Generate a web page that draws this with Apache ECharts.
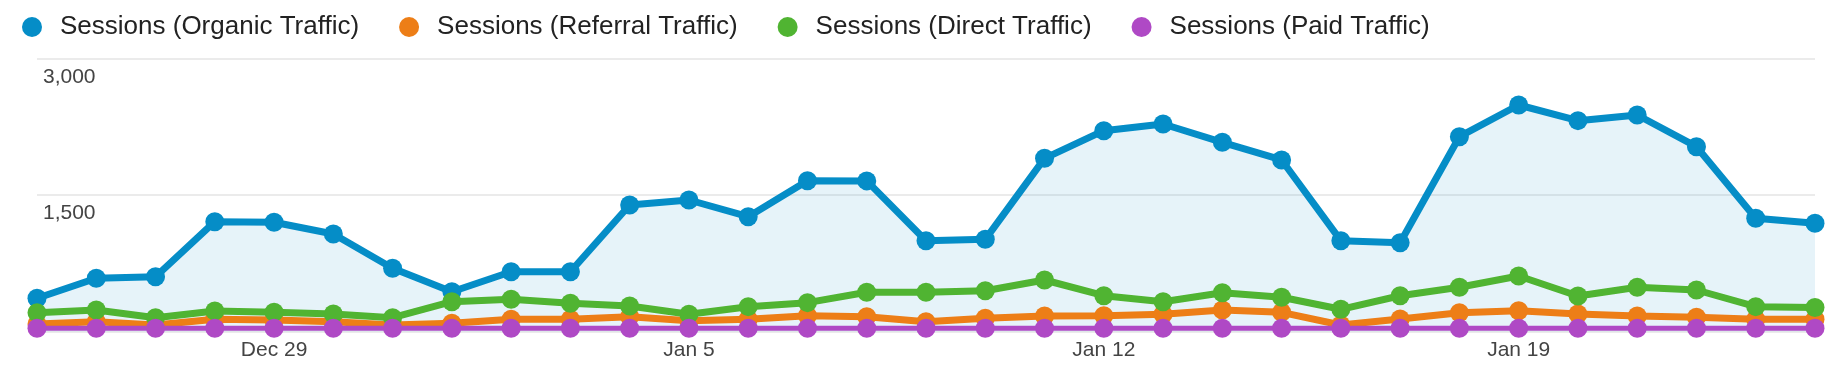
<!DOCTYPE html>
<html>
<head>
<meta charset="utf-8">
<script src="https://cdn.jsdelivr.net/npm/echarts@6/dist/echarts.min.js"></script>
<style>
html,body{margin:0;padding:0;background:#fff;}
#chart{width:1846px;height:368px;}
</style>
</head>
<body>
<div id="chart"></div>
<script>
const categories = ["Dec 25","Dec 26","Dec 27","Dec 28","Dec 29","Dec 30","Dec 31","Jan 1","Jan 2","Jan 3","Jan 4","Jan 5","Jan 6","Jan 7","Jan 8","Jan 9","Jan 10","Jan 11","Jan 12","Jan 13","Jan 14","Jan 15","Jan 16","Jan 17","Jan 18","Jan 19","Jan 20","Jan 21","Jan 22","Jan 23","Jan 24"];
const tickLabels = ["Dec 29","Jan 5","Jan 12","Jan 19"];
const seriesNames = ["Sessions (Organic Traffic)","Sessions (Referral Traffic)","Sessions (Direct Traffic)","Sessions (Paid Traffic)"];
const organic = [365,585,602,1207,1200,1072,695,437,657,657,1390,1445,1262,1657,1655,998,1013,1903,2207,2280,2079,1885,998,976,2141,2489,2317,2379,2031,1244,1189];
const referral = [82,108,71,134,126,108,71,90,134,134,163,119,134,174,163,108,145,170,174,189,236,211,71,137,207,229,192,170,156,134,134];
const direct = [207,236,152,225,211,192,152,327,354,310,280,189,273,317,431,431,448,566,393,327,426,376,244,393,486,610,390,486,456,273,264];
const paid = [35,35,35,35,35,35,35,35,35,35,35,35,35,35,35,35,35,35,35,35,35,35,35,35,35,35,35,35,35,35,35];
const yTicks = [0,1500,3000];

const colors = ['#058dc7','#ed7e17','#50b432','#af49c5'];
const chart = echarts.init(document.getElementById('chart'), null, {renderer:'canvas'});
const FONT = '"Liberation Sans", Arial, sans-serif';

function mk(name, data, color, extra){
  return Object.assign({
    name: name, type: 'line', data: data,
    symbol: 'circle', symbolSize: 19, showSymbol: true,
    lineStyle: {color: color, width: 7},
    itemStyle: {color: color, borderWidth: 0},
    emphasis: {disabled: true},
    animation: false
  }, extra || {});
}

chart.setOption({
  animation: false,
  color: colors,
  textStyle: {fontFamily: FONT},
  legend: {
    left: 22, top: 14, padding: 0,
    icon: 'circle', itemWidth: 20, itemHeight: 20, itemGap: 40,
    textStyle: {fontSize: 26, color: '#222', fontFamily: FONT, padding: [0,0,0,13]},
    data: seriesNames
  },
  grid: {left: 37, right: 31, top: 58.5, bottom: 36.5, containLabel: false},
  xAxis: {
    type: 'category', data: categories, boundaryGap: false,
    axisLine: {show: false}, axisTick: {show: false},
    axisLabel: {
      interval: function(i){ return tickLabels.indexOf(categories[i]) >= 0; },
      color: '#444', fontSize: 21, margin: 8, fontFamily: FONT
    },
    splitLine: {show: false}
  },
  yAxis: {
    type: 'value', min: yTicks[0], max: yTicks[2], interval: yTicks[1] - yTicks[0],
    axisLine: {show: false}, axisTick: {show: false},
    axisLabel: {
      inside: true, showMinLabel: false, margin: 6,
      verticalAlign: 'top', align: 'left', padding: [8,0,0,0],
      color: '#444', fontSize: 21, fontFamily: FONT,
      formatter: function(v){ return v.toLocaleString('en-US'); }
    },
    splitLine: {show: true, lineStyle: {color: '#ebebeb', width: 2}}
  },
  series: [
    mk(seriesNames[0], organic, colors[0], {areaStyle: {color: colors[0], opacity: 0.1}}),
    mk(seriesNames[1], referral, colors[1]),
    mk(seriesNames[2], direct, colors[2]),
    mk(seriesNames[3], paid, colors[3], {lineStyle: {color: colors[3], width: 5}})
  ]
});
</script>
</body>
</html>
